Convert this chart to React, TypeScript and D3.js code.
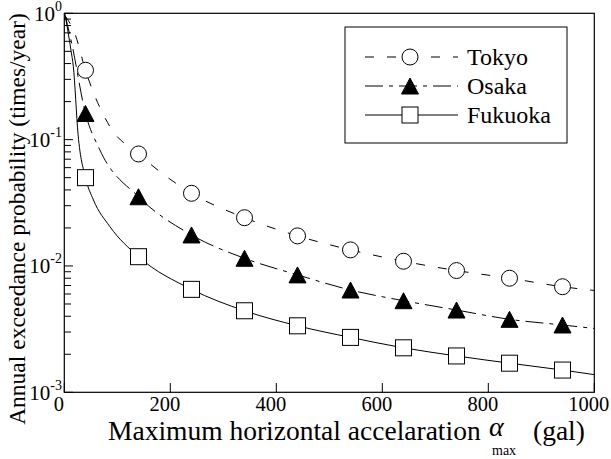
import React from "react";
import * as d3 from "d3";

const markerX = [40, 140, 240, 340, 440, 540, 640, 740, 840, 940];
const tokyoMarkers = [0.354, 0.077, 0.0376, 0.0241, 0.0173, 0.0134, 0.0109, 0.0092, 0.0080, 0.00685];
const osakaMarkers = [0.161, 0.0353, 0.0176, 0.0115, 0.0085, 0.00645, 0.00531, 0.00448, 0.00378, 0.00341];
const fukuokaMarkers = [0.050, 0.01184, 0.00653, 0.00442, 0.00336, 0.00272, 0.00225, 0.00194, 0.0017, 0.0015];

const tokyoCurveX = [2, 20, 40, 86, 140, 240, 340, 440, 540, 640, 740, 840, 940, 1000];
const tokyoCurveY = [0.95, 0.69, 0.354, 0.127, 0.077, 0.0376, 0.0241, 0.0173, 0.0134, 0.0109, 0.0092, 0.0080, 0.00685, 0.0064];
const osakaCurveX = [2, 14, 40, 67, 140, 240, 340, 440, 540, 640, 740, 840, 940, 1000];
const osakaCurveY = [0.95, 0.578, 0.161, 0.083, 0.0353, 0.0176, 0.0115, 0.0085, 0.00645, 0.00531, 0.00448, 0.00378, 0.00341, 0.0032];
const fukuokaCurveX = [1, 12.6, 17, 26, 40, 55, 86, 140, 240, 340, 440, 540, 640, 740, 840, 940, 1000];
const fukuokaCurveY = [1.0, 0.51, 0.38, 0.11, 0.050, 0.0333, 0.0205, 0.01184, 0.00653, 0.00442, 0.00336, 0.00272, 0.00225, 0.00194, 0.0017, 0.0015, 0.00138];

const xTicks = [0, 200, 400, 600, 800, 1000];
const yMajor = [1, 0.1, 0.01, 0.001];
const yExp = ["0", "-1", "-2", "-3"];
const seriesNames = ["Tokyo", "Osaka", "Fukuoka"];

const FONT = "'Liberation Serif', 'Times New Roman', serif";

export default function App() {
  const x = d3.scaleLinear().domain([0, 1000]).range([64.3, 594.3]);
  const y = d3.scaleLog().domain([1e-3, 1]).range([392.3, 13.3]);
  const line = d3
    .line<[number, number]>()
    .x((d) => x(d[0]))
    .y((d) => y(d[1]))
    .curve(d3.curveMonotoneX);

  const pairs = (xs: number[], ys: number[]) => xs.map((v, i) => [v, ys[i]] as [number, number]);

  const minor: number[] = [];
  [0.001, 0.01, 0.1].forEach((b) => {
    for (let k = 2; k <= 9; k++) minor.push(b * k);
  });

  const dashes = ["9,13", "18,6,4,6", null];
  const curves = [
    pairs(tokyoCurveX, tokyoCurveY),
    pairs(osakaCurveX, osakaCurveY),
    pairs(fukuokaCurveX, fukuokaCurveY),
  ];
  const markers = [tokyoMarkers, osakaMarkers, fukuokaMarkers];

  const drawMarker = (kind: number, cx: number, cy: number, key: string) => {
    if (kind === 0)
      return <circle key={key} cx={cx} cy={cy} r={8} fill="#fff" stroke="#000" strokeWidth={1} />;
    if (kind === 1)
      return (
        <path
          key={key}
          d={`M${cx},${cy - 8} L${cx + 8.5},${cy + 8} L${cx - 8.5},${cy + 8} Z`}
          fill="#000"
          stroke="#000"
          strokeWidth={1}
        />
      );
    return <rect key={key} x={cx - 8} y={cy - 8} width={16} height={16} fill="#fff" stroke="#000" strokeWidth={1} />;
  };

  const legendY = [57, 86, 115];

  return (
    <svg
      width={611}
      height={459}
      style={{ position: "absolute", left: 0, top: 0, background: "#fff", fontFamily: FONT }}
    >
      <rect x={0} y={0} width={611} height={459} fill="#fff" />
      {curves.map((c, i) => (
        <path
          key={"c" + i}
          d={line(c) || ""}
          fill="none"
          stroke="#000"
          strokeWidth={1}
          strokeDasharray={dashes[i] || undefined}
        />
      ))}
      {markers.map((m, i) => m.map((v, j) => drawMarker(i, x(markerX[j]), y(v), `m${i}-${j}`)))}

      <rect x={64.3} y={13.3} width={530} height={379} fill="none" stroke="#000" strokeWidth={1.2} />
      {yMajor.map((v) => (
        <line key={"ym" + v} x1={64.3} x2={73} y1={y(v)} y2={y(v)} stroke="#000" strokeWidth={1} />
      ))}
      {minor.map((v) => (
        <line key={"yn" + v} x1={64.3} x2={71} y1={y(v)} y2={y(v)} stroke="#000" strokeWidth={1} />
      ))}
      {xTicks.map((t) => (
        <line key={"xt" + t} x1={x(t)} x2={x(t)} y1={392.3} y2={383} stroke="#000" strokeWidth={1} />
      ))}
      {xTicks.map((t) => (
        <text key={"xl" + t} x={x(t) - 5.5} y={411} fontSize={20.5} textAnchor="middle">
          {t}
        </text>
      ))}
      {yMajor.map((v, i) => (
        <text key={"yl" + v} x={62} y={y(v) + 7.5} fontSize={21} textAnchor="end">
          10
          <tspan fontSize={14} dy={-10}>
            {yExp[i]}
          </tspan>
        </text>
      ))}

      <text x={108} y={440} fontSize={27.5}>
        Maximum horizontal accelaration
      </text>
      <text x={489} y={436} fontSize={28} fontStyle="italic">
        α
      </text>
      <text x={492} y={454.5} fontSize={14}>
        max
      </text>
      <text x={533} y={440} fontSize={27.5}>
        (gal)
      </text>
      <text transform={`translate(25,219) rotate(-90)`} fontSize={23.5} textAnchor="middle">
        Annual exceedance probability (times/year)
      </text>

      <rect x={345} y={27} width={222} height={116} fill="#fff" stroke="#000" strokeWidth={1} />
      {seriesNames.map((n, i) => (
        <g key={"lg" + i}>
          <line
            x1={365}
            x2={458}
            y1={legendY[i]}
            y2={legendY[i]}
            stroke="#000"
            strokeWidth={1}
            strokeDasharray={dashes[i] || undefined}
          />
          {drawMarker(i, 410, legendY[i], "lm" + i)}
          <text x={467} y={legendY[i] + 8} fontSize={24}>
            {n}
          </text>
        </g>
      ))}
    </svg>
  );
}
